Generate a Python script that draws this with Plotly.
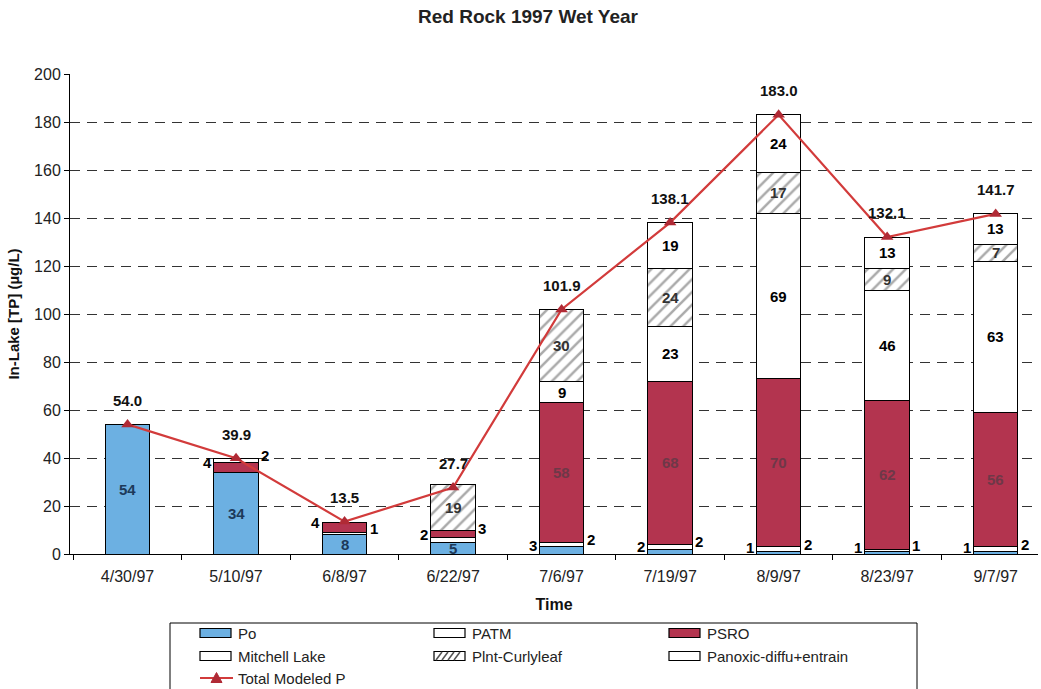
import plotly.graph_objects as go

# Sampling dates and component loads (µg/L)
dates = ["4/30/97", "5/10/97", "6/8/97", "6/22/97", "7/6/97",
         "7/19/97", "8/9/97", "8/23/97", "9/7/97"]
po = [54, 34, 8, 5, 3, 2, 1, 1, 1]
patm = [0, 0, 1, 2, 2, 2, 2, 1, 2]
psro = [0, 4, 4, 3, 58, 68, 70, 62, 56]
mitchell = [0, 2, 0, 0, 9, 23, 69, 46, 63]
plnt = [0, 0, 0, 19, 30, 24, 17, 9, 7]
panoxic = [0, 0, 0, 0, 0, 19, 24, 13, 13]
total = [54.0, 39.9, 13.5, 27.7, 101.9, 138.1, 183.0, 132.1, 141.7]

FONT = "Liberation Sans, Arial, sans-serif"
BLUE = "#6cb0e2"
RED = "#b3344f"
LINE_RED = "#d23b3b"
MARK_RED = "#b02a35"

W, H = 1041, 689
ML, MR, MT, MB = 70, 3, 74, 135
PW, PH = W - ML - MR, H - MT - MB


def fx(px):
    """pixel column -> paper x"""
    return (px - ML) / PW


def fy(py):
    """pixel row -> paper y"""
    return (H - MB - py) / PH


series = [
    ("Po", po, dict(color=BLUE), "#1d3a5a"),
    ("PATM", patm, dict(color="white"), "black"),
    ("PSRO", psro, dict(color=RED), "#6e3848"),
    ("Mitchell Lake", mitchell, dict(color="white"), "black"),
    ("Plnt-Curlyleaf", plnt,
     dict(color="white", pattern=dict(shape="/", fgcolor="#555555", bgcolor="white",
                                      size=9, solidity=0.28)), "#333333"),
    ("Panoxic-diffu+entrain", panoxic, dict(color="white"), "black"),
]

fig = go.Figure()
for name, vals, marker, _ in series:
    fig.add_trace(go.Bar(
        x=dates, y=vals, name=name,
        marker=dict(line=dict(color="black", width=1), **marker),
    ))

fig.add_trace(go.Scatter(
    x=dates, y=total, name="Total Modeled P", mode="lines+markers",
    line=dict(color=LINE_RED, width=2.2),
    marker=dict(symbol="triangle-up", size=11, color=MARK_RED),
))

# Which side small segment values are written on
default_side = {"Po": "left", "PATM": "right", "PSRO": "left", "Mitchell Lake": "right",
                "Plnt-Curlyleaf": "right", "Panoxic-diffu+entrain": "right"}
side_override = {"6/22/97": {"PATM": "left", "PSRO": "right"}}

annotations = []
for i, d in enumerate(dates):
    base = 0
    for name, vals, _, tcolor in series:
        v = vals[i]
        if v > 0:
            mid = base + v / 2
            if v >= 5:
                annotations.append(dict(
                    x=d, y=mid, text=f"<b>{v}</b>", showarrow=False,
                    font=dict(family=FONT, size=15, color=tcolor)))
            else:
                side = side_override.get(d, {}).get(name, default_side[name])
                annotations.append(dict(
                    x=d, y=mid, text=f"<b>{v}</b>", showarrow=False,
                    xshift=-29 if side == "left" else 29, yshift=5,
                    font=dict(family=FONT, size=15, color="black")))
        base += v
    annotations.append(dict(
        x=d, y=total[i], text=f"<b>{total[i]:.1f}</b>", showarrow=False,
        yshift=24, font=dict(family=FONT, size=15, color="#111111")))

# Legend drawn as a boxed key below the axis
shapes = [dict(type="rect", xref="paper", yref="paper",
               x0=fx(170), x1=fx(917), y0=fy(700), y1=fy(623),
               line=dict(color="black", width=1), fillcolor="white", layer="above")]

legend_rows = [
    [("Po", "bar", BLUE), ("PATM", "bar", "white"), ("PSRO", "bar", RED)],
    [("Mitchell Lake", "bar", "white"), ("Plnt-Curlyleaf", "hatch", "white"),
     ("Panoxic-diffu+entrain", "bar", "white")],
    [("Total Modeled P", "line", LINE_RED)],
]
col_x = [200, 434, 669]
row_y = [633, 656, 678]
for r, row in enumerate(legend_rows):
    for c, (label, kind, color) in enumerate(row):
        x0 = col_x[c]
        x1 = x0 + 31
        yc = row_y[r]
        if kind in ("bar", "hatch"):
            shapes.append(dict(type="rect", xref="paper", yref="paper",
                               x0=fx(x0), x1=fx(x1), y0=fy(yc + 4.5), y1=fy(yc - 4.5),
                               line=dict(color="black", width=1.2), fillcolor=color,
                               layer="above"))
            if kind == "hatch":
                for hx in range(x0 + 2, x1 - 5, 6):
                    shapes.append(dict(type="line", xref="paper", yref="paper",
                                       x0=fx(hx), x1=fx(hx + 6), y0=fy(yc + 4), y1=fy(yc - 4),
                                       line=dict(color="#555555", width=1.5), layer="above"))
        else:
            shapes.append(dict(type="line", xref="paper", yref="paper",
                               x0=fx(x0), x1=fx(x1 + 2), y0=fy(yc), y1=fy(yc),
                               line=dict(color=color, width=2.2), layer="above"))
            xm = (x0 + x1 + 2) / 2
            shapes.append(dict(type="path", xref="paper", yref="paper",
                               path=(f"M {fx(xm - 5.5)},{fy(yc + 4.5)} L {fx(xm + 5.5)},{fy(yc + 4.5)} "
                                     f"L {fx(xm)},{fy(yc - 5.5)} Z"),
                               fillcolor=MARK_RED, line=dict(color=MARK_RED, width=1),
                               layer="above"))
        annotations.append(dict(
            xref="paper", yref="paper", x=fx(x1 + 5), y=fy(yc), xanchor="left",
            yanchor="middle", text=label, showarrow=False,
            font=dict(family=FONT, size=15, color="#222222")))

fig.update_layout(
    width=W, height=H,
    margin=dict(l=ML, r=MR, t=MT, b=MB),
    paper_bgcolor="white", plot_bgcolor="white",
    barmode="stack", bargap=0.59,
    font=dict(family=FONT, size=16, color="black"),
    title=dict(text="<b>Red Rock 1997 Wet Year</b>", x=528 / W, xanchor="center",
               y=1 - 16 / H, yanchor="middle", yref="container",
               font=dict(family=FONT, size=19, color="#222222")),
    annotations=annotations,
    shapes=shapes,
    showlegend=False,
)

fig.update_xaxes(
    range=[-0.53, 8.39], showline=True, linecolor="black", linewidth=1,
    ticks="outside", tickson="boundaries", ticklen=5, tickcolor="black",
    ticklabelstandoff=8,
    showgrid=False, tickfont=dict(family=FONT, size=16, color="#222222"),
    title=dict(text="<b>Time</b>", standoff=14,
               font=dict(family=FONT, size=16, color="#111111")),
)
fig.update_yaxes(
    range=[0, 200], dtick=20, showline=True, linecolor="black", linewidth=1,
    ticks="outside", ticklen=5, tickcolor="black",
    showgrid=True, gridcolor="#333333", gridwidth=1, griddash="10px,7px",
    zeroline=False, tickfont=dict(family=FONT, size=16, color="#222222"),
    title=dict(text="<b>In-Lake [TP] (µg/L)</b>", standoff=10,
               font=dict(family=FONT, size=15, color="#111111")),
)

fig.write_html("out.html")
